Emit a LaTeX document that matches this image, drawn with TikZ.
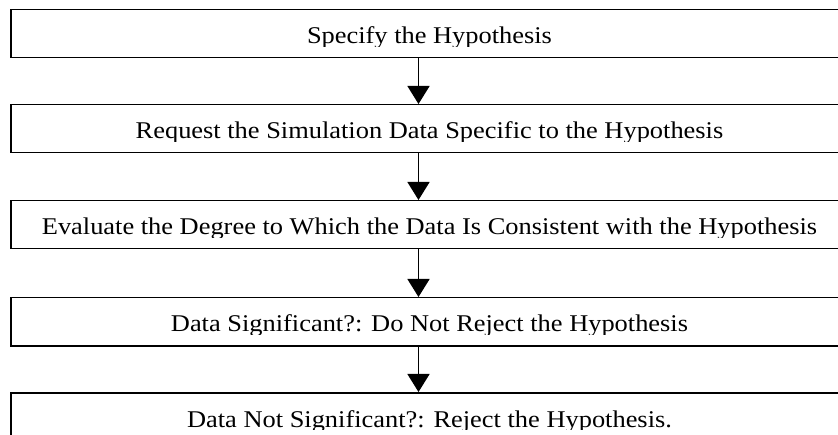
\documentclass[tikz,border=0pt]{standalone}
\usepackage{fontspec}
\setmainfont{Liberation Serif}
\newfontfamily\wordfont[FakeStretch=1.1]{Liberation Serif}
\usetikzlibrary{arrows.meta}
\begin{document}
\begin{tikzpicture}[x=1bp,y=-1bp,
  stepbox/.style={draw=black, line width=1.5bp, rectangle, minimum width=839bp, minimum height=48bp, inner sep=0pt, anchor=north west},
  lbl/.style={font=\wordfont\fontsize{24.1pt}{28pt}\selectfont, inner sep=0pt, anchor=base},
  arr/.style={line width=1.5bp, -{Triangle[width=22bp,length=18bp]}}]
\clip (0,0) rectangle (838,435);
\coordinate (ax) at (418.5,0);
\node[stepbox] (b1) at (10,9) {};
\node[stepbox] (b2) at (10,104) {};
\node[stepbox] (b3) at (10,200) {};
\node[stepbox] (b4) at (10,297) {};
\node[stepbox] (b5) at (10,392) {};
\begin{scope}
\clip (10,9) rectangle (849,46.5);
\node[lbl] (t1) at (429.5,44) {Specify the Hypothesis};
\end{scope}
\begin{scope}
\clip (10,104) rectangle (849,141.5);
\node[lbl] (t2) at (429.5,139) {Request the Simulation Data Specific to the Hypothesis};
\end{scope}
\begin{scope}
\clip (10,200) rectangle (849,237.5);
\node[lbl] (t3) at (429.5,235) {Evaluate the Degree to Which the Data Is Consistent with the Hypothesis};
\end{scope}
\begin{scope}
\clip (10,297) rectangle (849,334.5);
\node[lbl] (t4) at (429.5,332) {Data Significant?: Do Not Reject the Hypothesis};
\end{scope}
\begin{scope}
\clip (10,392) rectangle (849,429.5);
\node[lbl] (t5) at (429.5,427) {Data Not Significant?: Reject the Hypothesis.};
\end{scope}
\draw[arr] (b1.south -| ax) -- (b2.north -| ax);
\draw[arr] (b2.south -| ax) -- (b3.north -| ax);
\draw[arr] (b3.south -| ax) -- (b4.north -| ax);
\draw[arr] (b4.south -| ax) -- (b5.north -| ax);
\end{tikzpicture}
\end{document}
